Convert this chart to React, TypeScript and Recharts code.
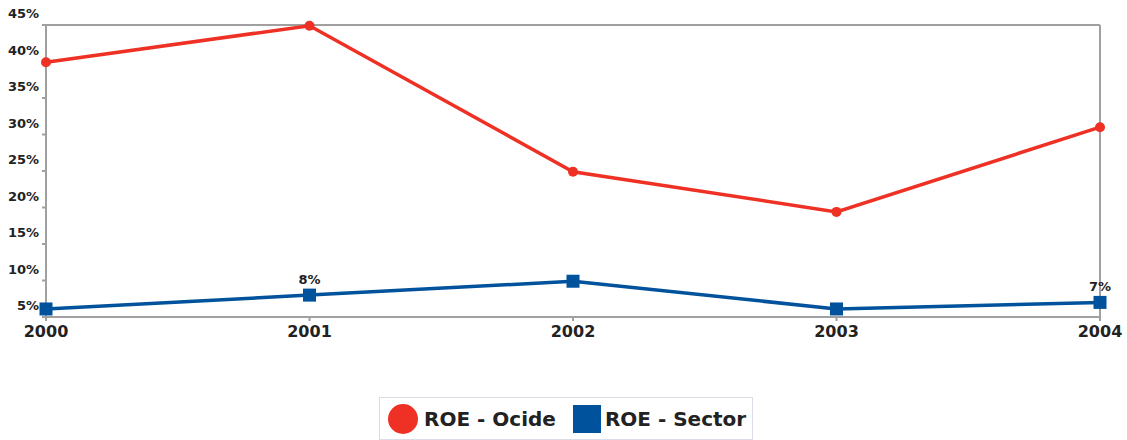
import { LineChart, Line, XAxis, YAxis, Legend, LabelList, ReferenceLine } from "recharts";

const years = ["2000", "2001", "2002", "2003", "2004"];
const roeOcide = [39.9, 44.9, 24.9, 19.4, 31.0];
const roeSector = [6.1, 8.0, 9.9, 6.1, 7.0];
const sectorLabels = ["", "8%", "", "", "7%"];
const yTicks = [5, 10, 15, 20, 25, 30, 35, 40, 45];

const data = years.map((y, i) => ({
    year: y,
    ocide: roeOcide[i],
    sector: roeSector[i],
    label: sectorLabels[i],
}));

const FONT = "'DejaVu Sans', Verdana, sans-serif";
const RED = "#ee3124";
const BLUE = "#00529c";
const AXIS = "#a0a0a0";

const YTick = (props: any) => {
    const { x, y, payload } = props;
    return (
        <text x={x - 1} y={y - 7} textAnchor="end" fontFamily={FONT} fontSize={13} fontWeight="bold" fill="#222">
            {payload.value}%
        </text>
    );
};

const XTick = (props: any) => {
    const { x, y, payload } = props;
    return (
        <text x={x} y={y + 14} textAnchor="middle" fontFamily={FONT} fontSize={16} fontWeight="bold" fill="#222">
            {payload.value}
        </text>
    );
};

const SquareDot = (props: any) => {
    const { cx, cy } = props;
    if (cx == null || cy == null) return null;
    return <rect x={cx - 6.5} y={cy - 6.5} width={13} height={13} fill={BLUE} />;
};

const LegendBox = () => (
    <div
        style={{
            display: "flex",
            alignItems: "center",
            border: "1px solid #dcdce6",
            padding: "4px 8px 4px 8px",
            fontFamily: FONT,
            fontWeight: "bold",
            fontSize: 20,
            color: "#222",
            boxSizing: "border-box",
            height: 43,
            width: 374,
            whiteSpace: "nowrap",
            background: "#fff",
        }}
    >
        <span style={{ width: 30, height: 30, borderRadius: 15, background: RED, display: "inline-block", flex: "none" }} />
        <span style={{ marginLeft: 6 }}>ROE - Ocide</span>
        <span style={{ width: 28, height: 28, background: BLUE, display: "inline-block", marginLeft: 17, flex: "none" }} />
        <span style={{ marginLeft: 4 }}>ROE - Sector</span>
    </div>
);

export default function App() {
    return (
        <div style={{ position: "absolute", left: 0, top: 0, background: "#fff" }}>
            <LineChart width={1127} height={440} data={data} margin={{ top: 25, right: 27, left: 0, bottom: 0 }}>
                <XAxis
                    dataKey="year"
                    height={80}
                    stroke={AXIS}
                    strokeWidth={2}
                    tickSize={4}
                    tick={<XTick />}
                    interval={0}
                />
                <YAxis
                    domain={[5, 45]}
                    ticks={yTicks}
                    width={46}
                    stroke={AXIS}
                    strokeWidth={2}
                    tickSize={4}
                    tick={<YTick />}
                    interval={0}
                />
                <ReferenceLine y={45} stroke={AXIS} strokeWidth={2} />
                <ReferenceLine x="2004" stroke={AXIS} strokeWidth={2} />
                <Legend
                    verticalAlign="bottom"
                    content={<LegendBox />}
                    wrapperStyle={{ left: 379, bottom: 0, width: 374 }}
                />
                <Line
                    dataKey="ocide"
                    name="ROE - Ocide"
                    type="linear"
                    stroke={RED}
                    strokeWidth={3.5}
                    dot={{ r: 5, fill: RED, stroke: RED, strokeWidth: 0 }}
                    isAnimationActive={false}
                />
                <Line
                    dataKey="sector"
                    name="ROE - Sector"
                    type="linear"
                    stroke={BLUE}
                    strokeWidth={3.5}
                    dot={<SquareDot />}
                    isAnimationActive={false}
                >
                    <LabelList dataKey="label" position="top" offset={11} fontFamily={FONT} fontSize={13} fontWeight="bold" fill="#222" />
                </Line>
            </LineChart>
        </div>
    );
}
